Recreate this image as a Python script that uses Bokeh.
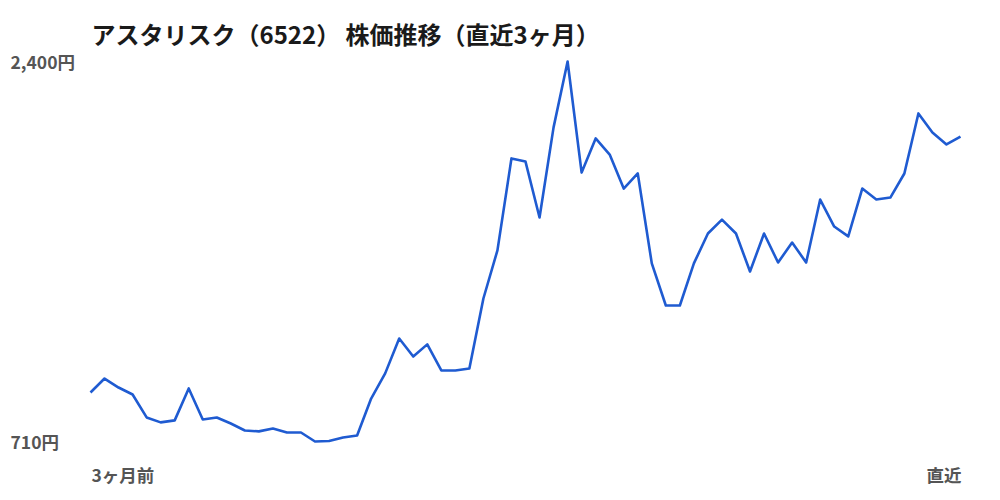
from bokeh.plotting import figure
from bokeh.models import Label, Range1d
from bokeh.embed import file_html
from bokeh.resources import INLINE

title_text = "アスタリスク（6522） 株価推移（直近3ヶ月）"
y_tick_values = [710, 2400]
y_tick_labels = ["710円", "2,400円"]
x_tick_labels = ["3ヶ月前", "直近"]

prices = [928, 990, 950, 919, 817, 795, 804, 946, 808, 817,
          790, 759, 755, 768, 750, 750, 710, 712, 728, 737,
          901, 1013, 1168, 1088, 1142, 1026, 1026, 1035, 1346, 1560,
          1969, 1955, 1706, 2107, 2400, 1906, 2058, 1986, 1835, 1902,
          1502, 1315, 1315, 1502, 1635, 1697, 1635, 1466, 1635, 1506,
          1595, 1506, 1786, 1666, 1622, 1835, 1786, 1795, 1902, 2169,
          2084, 2031, 2066]
days = list(range(len(prices)))

W, H = 1000, 500
px_per_day = 870 / 62.0
px_per_yen = 380 / 1690.0

def day_at(px):
    return (px - 90) / px_per_day

def val_at(py):
    return 2400 - (py - 61) / px_per_yen

p = figure(width=W, height=H, output_backend="svg", toolbar_location=None,
           x_range=Range1d(day_at(0), day_at(W)),
           y_range=Range1d(val_at(H), val_at(0)),
           x_axis_type=None, y_axis_type=None, min_border=0)
p.grid.visible = False
p.outline_line_color = None
p.background_fill_color = "white"
p.border_fill_color = "white"

p.line(days, prices, line_color="#1f5bd1", line_width=2.6, line_join="round")

font = "Noto Sans CJK JP"
lab_size = "17.5px"
lab_color = "#555555"

p.add_layout(Label(x=day_at(91), y=val_at(33), text=title_text,
                   text_font=font, text_font_size="24px", text_font_style="bold",
                   text_color="#1a1a1a", text_baseline="middle", text_align="left"))

for v, t in zip(y_tick_values, y_tick_labels):
    p.add_layout(Label(x=day_at(10), y=v, text=t, text_font=font,
                       text_font_size=lab_size, text_font_style="bold",
                       text_color=lab_color, text_baseline="middle", text_align="left"))

p.add_layout(Label(x=day_at(91), y=val_at(474), text=x_tick_labels[0], text_font=font,
                   text_font_size=lab_size, text_font_style="bold", text_color=lab_color,
                   text_baseline="middle", text_align="left"))
p.add_layout(Label(x=day_at(961), y=val_at(474), text=x_tick_labels[1], text_font=font,
                   text_font_size=lab_size, text_font_style="bold", text_color=lab_color,
                   text_baseline="middle", text_align="right"))

open("out.html", "w").write(file_html(p, INLINE))
